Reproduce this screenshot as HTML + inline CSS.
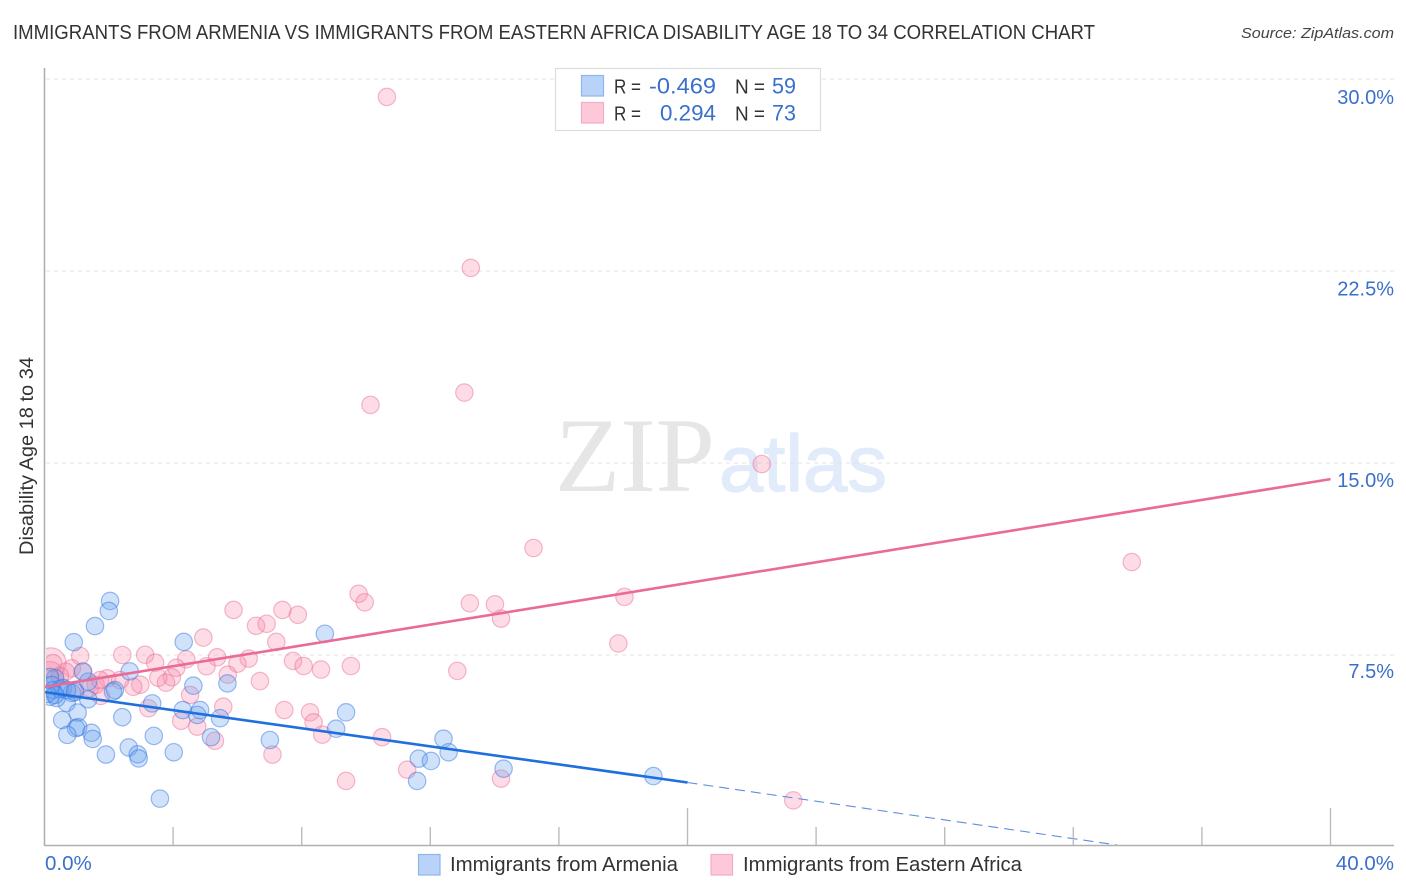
<!DOCTYPE html>
<html>
<head>
<meta charset="utf-8">
<title>Disability Age 18 to 34 Correlation Chart</title>
<style>
html,body{margin:0;padding:0;background:#fff;width:1406px;height:892px;overflow:hidden}
svg{display:block}
text{font-family:"Liberation Sans",sans-serif}
</style>
</head>
<body>
<svg id="chart" width="1406" height="892" viewBox="0 0 1406 892" xmlns="http://www.w3.org/2000/svg">
  <defs>
    <clipPath id="plot-clip"><rect x="46" y="60" width="1348" height="785"/></clipPath>
  </defs>
  <text x="13" y="39" font-size="20" fill="#333" textLength="1082" lengthAdjust="spacingAndGlyphs">IMMIGRANTS FROM ARMENIA VS IMMIGRANTS FROM EASTERN AFRICA DISABILITY AGE 18 TO 34 CORRELATION CHART</text>
  <text x="1394" y="38" font-size="15" font-style="italic" fill="#444" text-anchor="end" textLength="153" lengthAdjust="spacingAndGlyphs">Source: ZipAtlas.com</text>

  <g>
    <text x="555" y="491" style="font-family:'Liberation Serif',serif" font-size="106" fill="#e6e6e6" textLength="160" lengthAdjust="spacingAndGlyphs">ZIP</text>
    <text x="719" y="491" font-size="80" fill="#e2ebfa" stroke="#e2ebfa" stroke-width="1.2" textLength="168" lengthAdjust="spacingAndGlyphs">atlas</text>
  </g>

  <g id="grid"></g>
  <g id="points" clip-path="url(#plot-clip)"></g>
  <g id="trends"></g>

  <line x1="44.5" y1="68" x2="44.5" y2="846" stroke="#b0b0b0" stroke-width="1.6"/>
  <line x1="44" y1="845.5" x2="1394" y2="845.5" stroke="#b0b0b0" stroke-width="1.6"/>
  <g id="xticks"></g>
  <g id="ylabels"></g>
  <g id="xlabels"></g>

  <text transform="translate(33,456) rotate(-90)" font-size="19" fill="#333" text-anchor="middle" textLength="198" lengthAdjust="spacingAndGlyphs">Disability Age 18 to 34</text>

  <g>
    <rect x="555.5" y="68.5" width="265" height="62" fill="#fff" stroke="#dcdcdc" stroke-width="1.2"/>
    <rect x="581.5" y="75.5" width="22" height="20.5" fill="#b9d3f8" stroke="#8db5ee" stroke-width="1.2"/>
    <rect x="581.5" y="102.5" width="22" height="20.5" fill="#fdc9d9" stroke="#f3aec5" stroke-width="1.2"/>
    <text x="614" y="93.5" font-size="20.5" fill="#333" textLength="27" lengthAdjust="spacingAndGlyphs">R =</text>
    <text x="716" y="93.5" font-size="22" fill="#3a70cc" text-anchor="end" textLength="67" lengthAdjust="spacingAndGlyphs">-0.469</text>
    <text x="735" y="93.5" font-size="20.5" fill="#333" textLength="30" lengthAdjust="spacingAndGlyphs">N =</text>
    <text x="796" y="93.5" font-size="22" fill="#3a70cc" text-anchor="end" textLength="24" lengthAdjust="spacingAndGlyphs">59</text>
    <text x="614" y="120.5" font-size="20.5" fill="#333" textLength="27" lengthAdjust="spacingAndGlyphs">R =</text>
    <text x="716" y="120.5" font-size="22" fill="#3a70cc" text-anchor="end" textLength="56" lengthAdjust="spacingAndGlyphs">0.294</text>
    <text x="735" y="120.5" font-size="20.5" fill="#333" textLength="30" lengthAdjust="spacingAndGlyphs">N =</text>
    <text x="796" y="120.5" font-size="22" fill="#3a70cc" text-anchor="end" textLength="24" lengthAdjust="spacingAndGlyphs">73</text>
  </g>

  <g>
    <rect x="418.5" y="854.5" width="21.5" height="20.5" fill="#b9d3f8" stroke="#8db5ee" stroke-width="1.2"/>
    <text x="450" y="871" font-size="20" fill="#333" textLength="228" lengthAdjust="spacingAndGlyphs">Immigrants from Armenia</text>
    <rect x="711" y="854.5" width="21.5" height="20.5" fill="#fdc9d9" stroke="#f3aec5" stroke-width="1.2"/>
    <text x="743" y="871" font-size="20" fill="#333" textLength="279" lengthAdjust="spacingAndGlyphs">Immigrants from Eastern Africa</text>
  </g>
</svg>
<script>
// ---- data (x: Immigrants share %, y: Disability Age 18 to 34 %) ----
const armeniaX = [2.04,2.00,1.57,0.91,4.33,2.65,4.63,5.69,1.36,0.33,1.19,0.85,2.19,2.13,1.36,3.35,0.69,0.38,0.17,1.03,4.30,4.84,4.75,5.46,2.42,0.55,0.98,1.05,1.46,1.50,0.71,3.40,5.18,7.01,2.62,1.91,4.02,2.90,2.93,3.59,8.72,9.38,9.07,12.41,12.57,11.64,12.02,11.59,14.28,18.94,0.17,0.26,0.08,0.48,0.58,0.23,0.95,0.70,0.33];
const armeniaY = [9.61,9.22,8.63,8.00,8.01,6.86,6.30,6.39,6.46,6.60,6.85,6.02,6.13,6.07,5.77,5.61,5.63,5.82,5.87,5.25,5.35,5.35,5.16,5.03,5.07,4.96,4.64,4.68,4.46,4.22,4.38,4.34,4.29,4.18,3.89,3.61,3.70,3.62,3.46,1.89,8.33,5.26,4.62,4.23,3.70,3.45,3.36,2.58,3.06,2.77,6.64,6.13,5.98,6.17,6.21,6.33,6.05,6.13,5.94];
const africaX = [5.88,7.40,6.58,6.91,4.94,7.21,1.11,2.42,3.13,3.44,4.41,5.37,6.35,6.00,5.04,4.10,5.70,7.73,6.70,3.96,3.54,3.78,2.98,2.76,1.95,0.85,0.66,0.27,1.21,4.53,3.23,1.75,1.59,5.56,7.46,4.25,4.75,5.30,7.09,7.88,9.77,9.96,13.23,14.01,14.20,8.06,8.60,9.53,12.84,8.26,8.37,8.64,10.50,11.28,9.38,14.20,10.65,13.26,10.14,13.06,22.31,15.21,33.82,18.04,17.85,23.29,0.48,0.95,1.41,2.35,1.73];
const africaY = [9.26,9.26,8.64,8.72,8.18,8.01,7.46,7.50,7.51,7.20,7.33,7.41,7.36,7.16,7.06,7.00,6.73,7.27,6.48,6.63,6.61,6.42,6.34,6.26,6.59,6.98,6.85,7.18,6.85,5.94,5.42,5.90,6.33,5.48,5.35,4.93,4.70,4.15,3.61,9.07,9.89,9.56,9.52,9.48,8.92,7.07,6.93,7.07,6.88,5.26,4.87,4.39,4.29,3.02,2.58,2.67,29.30,22.62,17.27,17.75,14.96,11.68,11.13,9.77,7.95,1.82,6.68,6.13,6.21,6.52,6.52];
const africaHeavyX = [0.20,0.17];
const africaHeavyY = [7.19,6.72];
const africaHeavyWeight = [3.0,2.4];
const armeniaTrendX = [0,20];
const armeniaTrendY = [6.05,2.52];
const armeniaDashX = [20,33.35];
const armeniaDashY = [2.52,0.08];
const africaTrendX = [0,40];
const africaTrendY = [6.25,14.37];
const yTickValues = [7.5,15,22.5,30];
const yTickLabels = ["7.5%","15.0%","22.5%","30.0%"];
const xTickValues = [4,8,12,16,20,24,28,32,36,40];
const xMajorTicks = [20,40];
const xEndValues = [0,40];
const xEndLabels = ["0.0%","40.0%"];

// ---- axis functions ----
const NS = 'http://www.w3.org/2000/svg';
const sx = v => 44.5 + v * 32.15;
const sy = v => 847 - v * 25.6;
const labelY = v => sy(v) + 22.4 + v * 0.09;
function make(tag, parentId, attrs) {
  const el = document.createElementNS(NS, tag);
  Object.keys(attrs).forEach(k => el.setAttribute(k, attrs[k]));
  document.getElementById(parentId).appendChild(el);
  return el;
}

yTickValues.forEach((v, i) => {
  const g = make('line', 'grid', {x1: 46, x2: 1394, y1: sy(v), y2: sy(v), stroke: '#e3e3e3', 'stroke-width': 0.9, 'stroke-dasharray': '4 4'});
  
  
  const t = make('text', 'ylabels', {x: 1394, y: labelY(v), 'font-size': 20, fill: '#3a70cc', 'text-anchor': 'end'});
  
  
  t.textContent = yTickLabels[i];
});

xTickValues.forEach(v => {
  const top = xMajorTicks.includes(v) ? 808 : 827;
  const l = make('line', 'xticks', {x1: sx(v), x2: sx(v), y1: top, y2: 845, stroke: '#bcbcbc', 'stroke-width': 1.4});
  
  
});

xEndValues.forEach((v, i) => {
  const t = make('text', 'xlabels', {x: i === 0 ? 45 : 1394, y: 870, 'font-size': 20.5, fill: '#3a70cc', 'text-anchor': i === 0 ? 'start' : 'end'});
  
  
  t.textContent = xEndLabels[i];
});

const baseR = 8.7;
const africaStyle = {fill: 'rgba(248,140,172,0.30)', stroke: 'rgba(232,110,150,0.48)'};
const armeniaStyle = {fill: 'rgba(100,160,240,0.30)', stroke: 'rgba(50,115,225,0.48)'};

africaHeavyX.forEach((x, i) => {
  const c = make('circle', 'points', {cx: sx(x), cy: sy(africaHeavyY[i]), r: baseR * Math.sqrt(africaHeavyWeight[i]), fill: africaStyle.fill, stroke: africaStyle.stroke, 'stroke-width': 1.2});
  
  
});
africaX.forEach((x, i) => {
  const c = make('circle', 'points', {cx: sx(x), cy: sy(africaY[i]), r: baseR, fill: africaStyle.fill, stroke: africaStyle.stroke, 'stroke-width': 1.2});
  
  
});
armeniaX.forEach((x, i) => {
  const c = make('circle', 'points', {cx: sx(x), cy: sy(armeniaY[i]), r: baseR, fill: armeniaStyle.fill, stroke: armeniaStyle.stroke, 'stroke-width': 1.2});
  
  
});

const pinkLine = make('line', 'trends', {x1: sx(africaTrendX[0]), y1: sy(africaTrendY[0]), x2: sx(africaTrendX[1]), y2: sy(africaTrendY[1]), stroke: '#ea6a98', 'stroke-width': 2.6});


const blueLine = make('line', 'trends', {x1: sx(armeniaTrendX[0]), y1: sy(armeniaTrendY[0]), x2: sx(armeniaTrendX[1]), y2: sy(armeniaTrendY[1]), stroke: '#1f6fdd', 'stroke-width': 2.6});


const blueDash = make('line', 'trends', {x1: sx(armeniaDashX[0]), y1: sy(armeniaDashY[0]), x2: sx(armeniaDashX[1]), y2: sy(armeniaDashY[1]), stroke: '#5d8fdc', 'stroke-width': 1.1, 'stroke-dasharray': '10 6'});


</script>
</body>
</html>
